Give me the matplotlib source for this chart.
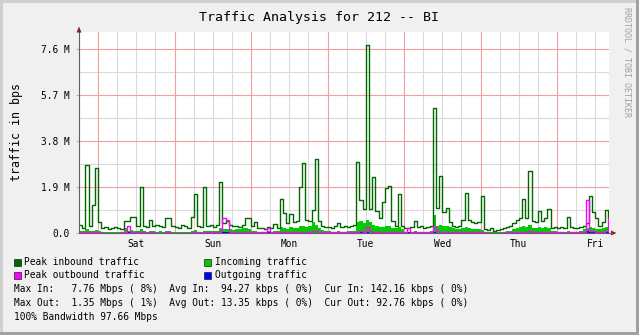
import matplotlib
matplotlib.use("Agg")
import matplotlib.pyplot as plt
from matplotlib.patches import Rectangle, Polygon
from matplotlib.lines import Line2D

# ---------------- data (hourly samples, Mbps) ----------------
# hours relative to Saturday 00:00; first sample starts Friday 18:00
start_hour = -6
end_hour = 160.3

peak_in = [
    0.33, 0.2, 2.8, 0.3, 1.16, 2.7,
    0.47, 0.2, 0.25, 0.15, 0.2, 0.25, 0.2, 0.15, 0.5, 0.5, 0.68, 0.68,
    0.3, 1.91, 0.3, 0.25, 0.55, 0.3, 0.35, 0.3, 0.25, 0.62, 0.62, 0.3,
    0.25, 0.2, 0.35, 0.3, 0.2, 0.68, 1.6, 0.3, 0.25, 1.89, 0.3, 0.35,
    0.25, 0.35, 2.1, 0.4, 0.5, 0.35, 0.3, 0.3, 0.25, 0.35, 0.62, 0.6,
    0.3, 0.45, 0.2, 0.2, 0.15, 0.25, 0.2, 0.37, 0.2, 1.39, 0.84, 0.4,
    0.78, 0.45, 0.5, 1.91, 2.88, 0.55, 0.5, 0.95, 3.05, 0.5, 0.3, 0.25,
    0.25, 0.2, 0.28, 0.4, 0.25, 0.3, 0.25, 0.3, 0.35, 2.92, 1.35, 1.0,
    7.76, 1.0, 2.33, 0.9, 0.6, 1.3, 1.85, 1.93, 0.5, 0.3, 1.61, 0.3,
    0.2, 0.2, 0.25, 0.5, 0.25, 0.3, 0.2, 0.25, 0.3, 5.15, 1.02, 2.37,
    0.88, 1.02, 0.45, 0.3, 0.25, 0.3, 0.55, 1.67, 0.55, 0.45, 0.4, 0.45,
    1.54, 0.15, 0.12, 0.2, 0.1, 0.12, 0.15, 0.2, 0.25, 0.3, 0.4, 0.55,
    0.6, 1.42, 0.6, 2.56, 0.5, 0.45, 0.92, 0.5, 0.6, 1.0, 0.2, 0.25,
    0.2, 0.25, 0.2, 0.65, 0.25, 0.2, 0.2, 0.25, 0.3, 0.4, 1.53, 0.88,
    0.6, 0.3, 0.45, 0.95, 0.6,
]

avg_in = [
    0.1, 0.08, 0.15, 0.08, 0.1, 0.12,
    0.08, 0.05, 0.05, 0.04, 0.05, 0.05, 0.04, 0.05, 0.2, 0.1, 0.12, 0.1,
    0.08, 0.15, 0.08, 0.06, 0.1, 0.08, 0.06, 0.07, 0.06, 0.08, 0.1, 0.06,
    0.05, 0.05, 0.06, 0.05, 0.04, 0.08, 0.12, 0.06, 0.06, 0.1, 0.08, 0.1,
    0.08, 0.1, 0.2, 0.15, 0.18, 0.15, 0.12, 0.15, 0.18, 0.2, 0.22, 0.18,
    0.1, 0.1, 0.06, 0.06, 0.05, 0.08, 0.06, 0.1, 0.1, 0.25, 0.22, 0.18,
    0.25, 0.2, 0.22, 0.28, 0.3, 0.25, 0.3, 0.45, 0.35, 0.2, 0.12, 0.1,
    0.08, 0.06, 0.06, 0.08, 0.06, 0.06, 0.08, 0.08, 0.1, 0.45, 0.5, 0.4,
    0.55, 0.45, 0.35, 0.3, 0.25, 0.25, 0.3, 0.28, 0.22, 0.2, 0.25, 0.15,
    0.06, 0.06, 0.05, 0.08, 0.06, 0.06, 0.05, 0.06, 0.08, 0.75, 0.3, 0.35,
    0.3, 0.3, 0.25, 0.2, 0.15, 0.15, 0.2, 0.25, 0.2, 0.15, 0.18, 0.15,
    0.12, 0.05, 0.04, 0.05, 0.04, 0.05, 0.05, 0.06, 0.08, 0.1, 0.15, 0.2,
    0.25, 0.3, 0.25, 0.35, 0.2, 0.2, 0.25, 0.2, 0.25, 0.2, 0.08, 0.08,
    0.06, 0.06, 0.05, 0.1, 0.06, 0.05, 0.06, 0.08, 0.15, 0.2, 0.25, 0.22,
    0.18, 0.15, 0.2, 0.25, 0.14,
]

peak_out = [
    0.03, 0.03, 0.04, 0.03, 0.03, 0.04,
    0.03, 0.02, 0.02, 0.02, 0.02, 0.02, 0.02, 0.03, 0.04, 0.29, 0.04, 0.03,
    0.03, 0.04, 0.03, 0.02, 0.03, 0.03, 0.02, 0.02, 0.02, 0.03, 0.03, 0.02,
    0.02, 0.02, 0.02, 0.02, 0.02, 0.03, 0.04, 0.03, 0.02, 0.04, 0.03, 0.03,
    0.03, 0.04, 0.08, 0.62, 0.55, 0.05, 0.04, 0.04, 0.05, 0.05, 0.06, 0.05,
    0.04, 0.03, 0.03, 0.03, 0.03, 0.2, 0.03, 0.04, 0.03, 0.05, 0.05, 0.04,
    0.05, 0.05, 0.05, 0.06, 0.06, 0.06, 0.06, 0.1, 0.08, 0.05, 0.04, 0.03,
    0.03, 0.03, 0.03, 0.03, 0.03, 0.03, 0.03, 0.03, 0.04, 0.06, 0.08, 0.06,
    0.25, 0.08, 0.06, 0.06, 0.05, 0.05, 0.06, 0.06, 0.05, 0.04, 0.05, 0.04,
    0.03, 0.22, 0.03, 0.03, 0.03, 0.03, 0.03, 0.03, 0.04, 0.3, 0.08, 0.06,
    0.06, 0.06, 0.05, 0.05, 0.04, 0.04, 0.05, 0.05, 0.05, 0.04, 0.04, 0.04,
    0.04, 0.03, 0.02, 0.02, 0.02, 0.02, 0.02, 0.03, 0.03, 0.04, 0.04, 0.05,
    0.05, 0.06, 0.05, 0.1, 0.05, 0.05, 0.06, 0.05, 0.05, 0.05, 0.03, 0.03,
    0.03, 0.03, 0.02, 0.04, 0.03, 0.03, 0.03, 0.04, 0.06, 1.35, 0.1, 0.08,
    0.06, 0.05, 0.06, 0.08, 0.6,
]

avg_out = [
    0.01, 0.01, 0.02, 0.01, 0.01, 0.02,
    0.01, 0.01, 0.01, 0.01, 0.01, 0.01, 0.01, 0.01, 0.01, 0.03, 0.01, 0.01,
    0.01, 0.01, 0.01, 0.01, 0.01, 0.01, 0.01, 0.01, 0.01, 0.01, 0.01, 0.01,
    0.01, 0.01, 0.01, 0.01, 0.01, 0.01, 0.01, 0.01, 0.01, 0.01, 0.01, 0.01,
    0.01, 0.01, 0.02, 0.05, 0.06, 0.02, 0.02, 0.02, 0.02, 0.02, 0.02, 0.02,
    0.01, 0.01, 0.01, 0.01, 0.01, 0.03, 0.01, 0.01, 0.01, 0.02, 0.02, 0.02,
    0.02, 0.02, 0.02, 0.02, 0.02, 0.02, 0.02, 0.02, 0.02, 0.02, 0.02, 0.02,
    0.01, 0.01, 0.01, 0.01, 0.01, 0.01, 0.01, 0.01, 0.01, 0.02, 0.03, 0.02,
    0.05, 0.02, 0.02, 0.02, 0.02, 0.02, 0.02, 0.02, 0.02, 0.02, 0.02, 0.02,
    0.01, 0.04, 0.01, 0.01, 0.01, 0.01, 0.01, 0.01, 0.01, 0.06, 0.02, 0.02,
    0.02, 0.02, 0.02, 0.02, 0.02, 0.02, 0.02, 0.02, 0.02, 0.02, 0.02, 0.02,
    0.01, 0.01, 0.01, 0.01, 0.01, 0.01, 0.01, 0.01, 0.01, 0.01, 0.01, 0.01,
    0.02, 0.02, 0.02, 0.02, 0.02, 0.02, 0.02, 0.02, 0.02, 0.02, 0.02, 0.02,
    0.01, 0.01, 0.01, 0.01, 0.01, 0.01, 0.01, 0.01, 0.03, 0.07, 0.08, 0.06,
    0.05, 0.05, 0.06, 0.08, 0.09,
]

day_labels = ["Sat", "Sun", "Mon", "Tue", "Wed", "Thu", "Fri"]
day_label_hours = [12, 36, 60, 84, 108, 132, 156]
midnight_hours = [0, 24, 48, 72, 96, 120, 144]
y_major = [0.0, 1.9, 3.8, 5.7, 7.6]
y_major_labels = ["0.0", "1.9 M", "3.8 M", "5.7 M", "7.6 M"]
y_minor = [0.95, 2.85, 4.75, 6.65]

title = "Traffic Analysis for 212 -- BI"
ylabel = "traffic in bps"
legend_items = [
    ("Peak inbound traffic", "#006600"),
    ("Incoming traffic", "#00cc00"),
    ("Peak outbound traffic", "#ff00ff"),
    ("Outgoing traffic", "#0000ff"),
]
stats_lines = [
    "Max In:   7.76 Mbps ( 8%)  Avg In:  94.27 kbps ( 0%)  Cur In: 142.16 kbps ( 0%)",
    "Max Out:  1.35 Mbps ( 1%)  Avg Out: 13.35 kbps ( 0%)  Cur Out: 92.76 kbps ( 0%)",
    "100% Bandwidth 97.66 Mbps",
]

# ---------------- figure ----------------
W, H = 639, 335
MONO = "DejaVu Sans Mono"
fig = plt.figure(figsize=(W / 100, H / 100), dpi=100, facecolor="#f0f0f0")


def fx(x):
    return x / W


def fy(y):
    return 1 - y / H


# 3D-ish frame
fig.add_artist(Rectangle((0, fy(3)), 1, 3 / H, transform=fig.transFigure, color="#d0d0d0", lw=0))
fig.add_artist(Rectangle((0, 0), 3 / W, 1, transform=fig.transFigure, color="#d0d0d0", lw=0))
fig.add_artist(Rectangle((fx(636), 0), 3 / W, 1, transform=fig.transFigure, color="#a0a0a0", lw=0))
fig.add_artist(Rectangle((0, 0), 1, 3 / H, transform=fig.transFigure, color="#a0a0a0", lw=0))

ax = fig.add_axes([fx(79), fy(233), 530 / W, 201 / H])
ax.set_facecolor("white")
ax.set_xlim(start_hour, end_hour)
ax.set_ylim(0, 8.3)

MAJOR_C = "#f0a0a0"
MINOR_C = "#dadada"

# grid
for h in range(start_hour, 161, 6):
    if h not in midnight_hours:
        ax.axvline(h, color=MINOR_C, lw=0.8, zorder=0.5)
for v in y_minor:
    ax.axhline(v, color=MINOR_C, lw=0.8, zorder=0.5)
for h in midnight_hours:
    ax.axvline(h, color=MAJOR_C, lw=0.8, zorder=0.6)
for v in y_major[1:]:
    ax.axhline(v, color=MAJOR_C, lw=0.8, zorder=0.6)

# data
hours = list(range(start_hour, start_hour + len(peak_in)))
edges = hours + [end_hour]


def ext(vals):
    return list(vals) + [vals[-1]]


ax.fill_between(edges, 0, ext(avg_in), step="post", color="#00cc00", lw=0, zorder=2)
ax.fill_between(edges, 0, ext(avg_out), step="post", color="#0000ff", lw=0, zorder=2.1)
ax.step(edges, ext(peak_in), where="post", color="#006600", lw=1.0, zorder=3)
ax.step(edges, ext(peak_out), where="post", color="#ff00ff", lw=1.0, zorder=3.1)

# axes styling
for s in ["top", "right"]:
    ax.spines[s].set_visible(False)
for s in ["left", "bottom"]:
    ax.spines[s].set_color("#606060")
    ax.spines[s].set_linewidth(0.8)
    ax.spines[s].set_zorder(4)

ax.set_yticks(y_major)
ax.set_yticklabels(y_major_labels, family=MONO, fontsize=6.85, color="#000000")
ax.tick_params(axis="y", length=2.5, width=0.8, color=MAJOR_C, pad=4.5)
ax.set_xticks(day_label_hours)
ax.set_xticklabels(day_labels, family=MONO, fontsize=6.85, color="#000000")
ax.tick_params(axis="x", length=0, pad=4)

# axis extension + arrows
fig.add_artist(Line2D([fx(609), fx(612)], [fy(233), fy(233)], transform=fig.transFigure,
                      color="#606060", lw=0.8))
fig.add_artist(Polygon([(fx(611), fy(230.5)), (fx(616.5), fy(233)), (fx(611), fy(235.5))],
                       closed=True, transform=fig.transFigure, color="#8b2020", lw=0))
fig.add_artist(Polygon([(fx(76.5), fy(32.5)), (fx(79), fy(26.5)), (fx(81.5), fy(32.5))],
                       closed=True, transform=fig.transFigure, color="#8b2020", lw=0))

# texts
fig.text(fx(319), fy(17), title, family=MONO, fontsize=9.5, ha="center", va="center")
fig.text(fx(17), fy(132), ylabel, family=MONO, fontsize=8.4, rotation=90,
         ha="center", va="center")
fig.text(fx(627), fy(62), "RRDTOOL / TOBI OETIKER", family=MONO, fontsize=6.0,
         rotation=270, ha="center", va="center", color="#a0a0a0")

# legend
legend_pos = [(13.5, 258.5), (204, 258.5), (13.5, 272), (204, 272)]
for (label, color), (lx, ly) in zip(legend_items, legend_pos):
    fig.add_artist(Rectangle((fx(lx), fy(ly + 7)), 7 / W, 7 / H, transform=fig.transFigure,
                             facecolor=color, edgecolor="#202020", lw=0.5))
    fig.text(fx(lx + 11), fy(ly + 3.5), label, family=MONO, fontsize=6.85,
             ha="left", va="center")

for i, line in enumerate(stats_lines):
    fig.text(fx(13.5), fy(289.5 + 14 * i), line, family=MONO, fontsize=6.85,
             ha="left", va="center")

fig.savefig("out.png", dpi=100, facecolor=fig.get_facecolor())
